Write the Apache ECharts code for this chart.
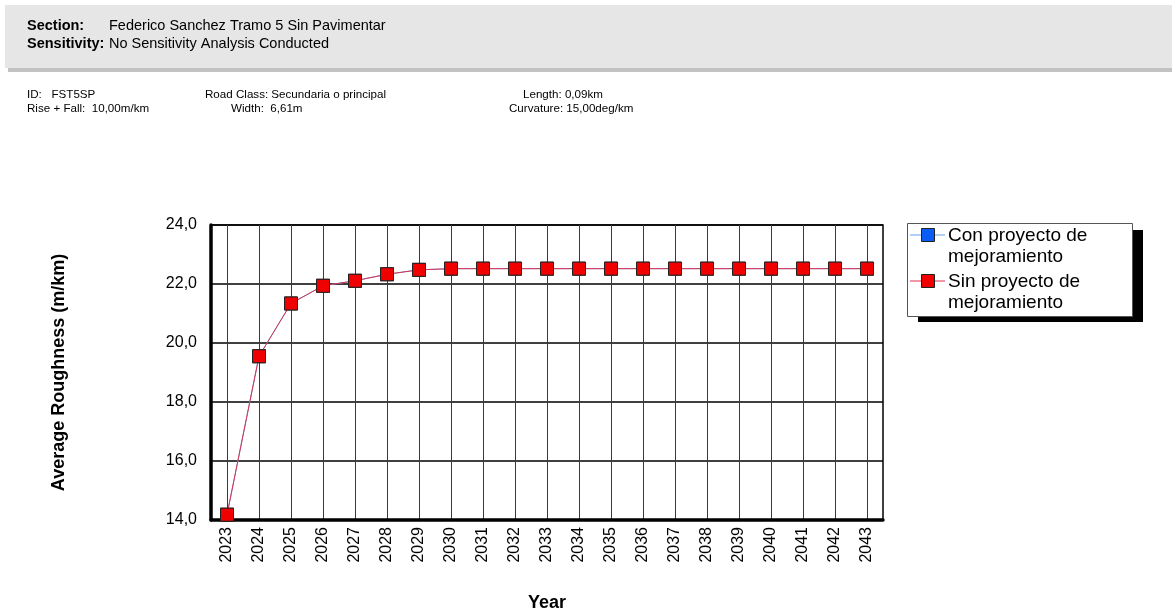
<!DOCTYPE html>
<html>
<head>
<meta charset="utf-8">
<script src="https://cdn.jsdelivr.net/npm/echarts@6/dist/echarts.min.js"></script>
<style>
  html, body { margin: 0; padding: 0; background: #fff; }
  #chart { width: 1172px; height: 610px; }
</style>
</head>
<body>
<div id="chart"></div>
<script>
// Years on the horizontal axis
const years = ['2023','2024','2025','2026','2027','2028','2029','2030','2031','2032','2033',
               '2034','2035','2036','2037','2038','2039','2040','2041','2042','2043'];
// Average roughness (m/km) per year for each scenario
const conProyecto = [14.18, 19.55, 21.34, 21.94, 22.11, 22.33, 22.48, 22.52, 22.52, 22.52, 22.52,
                     22.52, 22.52, 22.52, 22.52, 22.52, 22.52, 22.52, 22.52, 22.52, 22.52];
const sinProyecto = [14.18, 19.55, 21.34, 21.94, 22.11, 22.33, 22.48, 22.52, 22.52, 22.52, 22.52,
                     22.52, 22.52, 22.52, 22.52, 22.52, 22.52, 22.52, 22.52, 22.52, 22.52];
const seriesNames = ['Con proyecto de\nmejoramiento', 'Sin proyecto de\nmejoramiento'];
const yTicks = { min: 14, max: 24, step: 2 };

const FONT = '"Liberation Sans", Arial, sans-serif';
const chart = echarts.init(document.getElementById('chart'), null, { renderer: 'canvas' });

function txt(x, y, text, opts) {
  return {
    type: 'text', left: x, top: y,
    style: Object.assign({ text: text, fontFamily: FONT, fontSize: 11.6, fill: '#000' }, opts || {})
  };
}

function legendItem(y, color, lineColor, label) {
  return [
    { type: 'line', shape: { x1: 910, y1: y, x2: 945, y2: y }, style: { stroke: lineColor, lineWidth: 1 } },
    { type: 'rect', shape: { x: 921.5, y: y - 6.5, width: 13, height: 13 }, style: { fill: color, stroke: '#222', lineWidth: 1 } },
    { type: 'text', left: 948, top: y - 10, style: { text: label, fontFamily: FONT, fontSize: 19, lineHeight: 21, fill: '#000' } }
  ];
}

const graphics = [
  // header band
  { type: 'rect', shape: { x: 8, y: 66, width: 1164, height: 6 }, style: { fill: '#c2c2c2' } },
  { type: 'rect', shape: { x: 5, y: 5, width: 1167, height: 63 }, style: { fill: '#e6e6e6' } },
  txt(27, 18, 'Section:', { fontSize: 14.5, fontWeight: 'bold' }),
  txt(109, 18, 'Federico Sanchez Tramo 5 Sin Pavimentar', { fontSize: 14.5 }),
  txt(27, 36, 'Sensitivity:', { fontSize: 14.5, fontWeight: 'bold' }),
  txt(109, 36, 'No Sensitivity Analysis Conducted', { fontSize: 14.5 }),
  // section info
  txt(27, 89, 'ID:   FST5SP'),
  txt(27, 103, 'Rise + Fall:  10,00m/km'),
  txt(205, 89, 'Road Class: Secundaria o principal'),
  txt(231, 103, 'Width:  6,61m'),
  txt(523, 89, 'Length: 0,09km'),
  txt(509, 103, 'Curvature: 15,00deg/km'),
  // legend box with solid drop shadow
  { type: 'rect', shape: { x: 918, y: 230, width: 225, height: 92 }, style: { fill: '#000' } },
  { type: 'rect', shape: { x: 907.5, y: 223.5, width: 225, height: 93 }, style: { fill: '#fff', stroke: '#555', lineWidth: 1 } }
].concat(legendItem(235, '#0a5cf5', '#6a9ef5', seriesNames[0]))
 .concat(legendItem(281, '#f00000', '#e0304a', seriesNames[1]));

const option = {
  animation: false,
  textStyle: { fontFamily: FONT },
  grid: {
    left: 211, top: 225, right: 289, bottom: 90,
    containLabel: false, outerBoundsMode: 'none',
    show: true, borderColor: '#000', borderWidth: 1.5, backgroundColor: 'transparent'
  },
  xAxis: {
    type: 'category',
    data: years,
    boundaryGap: true,
    name: 'Year',
    nameLocation: 'middle',
    nameGap: 74,
    nameTextStyle: { fontFamily: FONT, fontSize: 18, fontWeight: 'bold', color: '#000' },
    axisLine: { lineStyle: { color: '#000', width: 3.5 } },
    axisTick: { show: false },
    axisLabel: { rotate: 90, fontFamily: FONT, fontSize: 16, color: '#000', margin: 7, interval: 0 },
    splitLine: { show: true, alignWithLabel: true, interval: 0, lineStyle: { color: '#3a3a3a', width: 1 } }
  },
  yAxis: {
    type: 'value',
    min: yTicks.min, max: yTicks.max, interval: yTicks.step,
    name: 'Average Roughness (m/km)',
    nameLocation: 'middle',
    nameGap: 143,
    nameTextStyle: { fontFamily: FONT, fontSize: 18, fontWeight: 'bold', color: '#000' },
    axisLine: { show: true, lineStyle: { color: '#000', width: 3.5 } },
    axisTick: { show: false },
    axisLabel: {
      fontFamily: FONT, fontSize: 16, color: '#000', margin: 14,
      formatter: v => v.toFixed(1).replace('.', ',')
    },
    splitLine: { show: true, lineStyle: { color: '#000', width: 1.5 } }
  },
  series: [
    {
      name: seriesNames[0], type: 'line', data: conProyecto,
      symbol: 'rect', symbolSize: 13,
      lineStyle: { color: '#6a9ef5', width: 1 },
      itemStyle: { color: '#0a5cf5', borderColor: '#222', borderWidth: 1 },
      z: 2
    },
    {
      name: seriesNames[1], type: 'line', data: sinProyecto,
      symbol: 'rect', symbolSize: 13,
      lineStyle: { color: '#d8304e', width: 1 },
      itemStyle: { color: '#f00000', borderColor: '#222', borderWidth: 1 },
      z: 3
    }
  ],
  graphic: graphics
};
chart.setOption(option);
</script>
</body>
</html>
